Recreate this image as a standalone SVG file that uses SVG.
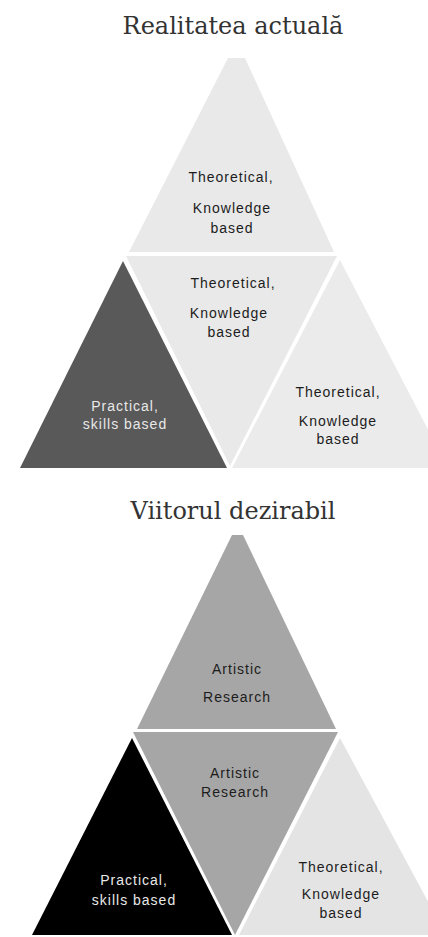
<svg xmlns="http://www.w3.org/2000/svg" width="428" height="937" viewBox="0 0 428 937">
  <style>
    .title { font-family: "DejaVu Serif", "Liberation Serif", serif; font-size: 24px; fill: #333333; text-anchor: middle; }
    .lbl { font-family: "Liberation Sans", Arial, sans-serif; font-size: 14px; letter-spacing: 1px; text-anchor: middle; }
    .dk { fill: #1c1c1c; }
    .lt { fill: #e8e8e8; }
    .light { fill: #e9e9e9; }
    .lighter { fill: #ebebeb; }
    .dark { fill: #595959; }
    .mid { fill: #a6a6a6; }
    .black { fill: #000000; }
    .pale { fill: #e4e4e4; }
  </style>
  <rect width="428" height="937" fill="#ffffff"/>

  <text class="title" x="233" y="34">Realitatea actuală</text>
  <text class="title" x="233" y="519">Viitorul dezirabil</text>

  <g id="connectors"></g>

  <!-- Top section -->
  <g id="cur-top">
    <polygon class="light" points="228,58 245,58 334,252 129,252"/>
    <text class="lbl dk" x="231" y="182">Theoretical,</text>
    <text class="lbl dk" x="232" y="213">Knowledge</text>
    <text class="lbl dk" x="232" y="233">based</text>
  </g>
  <g id="cur-middle">
    <polygon class="light" points="126,256 337,256 230,466"/>
    <text class="lbl dk" x="233" y="288">Theoretical,</text>
    <text class="lbl dk" x="229" y="318">Knowledge</text>
    <text class="lbl dk" x="229" y="337">based</text>
  </g>
  <g id="cur-left">
    <polygon class="dark" points="123,261 20,468 227,468"/>
    <text class="lbl lt" x="125" y="411">Practical,</text>
    <text class="lbl lt" x="125" y="429">skills based</text>
  </g>
  <g id="cur-right">
    <polygon class="lighter" points="340,260 232,468 448,468"/>
    <text class="lbl dk" x="338" y="397">Theoretical,</text>
    <text class="lbl dk" x="338" y="426">Knowledge</text>
    <text class="lbl dk" x="338" y="444">based</text>
  </g>

  <!-- Bottom section -->
  <g id="fut-top">
    <polygon class="mid" points="232,535 243,535 336,729 137,729"/>
    <text class="lbl dk" x="237" y="674">Artistic</text>
    <text class="lbl dk" x="237" y="702">Research</text>
  </g>
  <g id="fut-middle">
    <polygon class="mid" points="133,732 338,732 235,935"/>
    <text class="lbl dk" x="235" y="778">Artistic</text>
    <text class="lbl dk" x="235" y="797">Research</text>
  </g>
  <g id="fut-left">
    <polygon class="black" points="132,738 32,935 232,935"/>
    <text class="lbl lt" x="134" y="885">Practical,</text>
    <text class="lbl lt" x="134" y="905">skills based</text>
  </g>
  <g id="fut-right">
    <polygon class="pale" points="340,738 239,935 446,935"/>
    <text class="lbl dk" x="341" y="872">Theoretical,</text>
    <text class="lbl dk" x="341" y="899">Knowledge</text>
    <text class="lbl dk" x="341" y="918">based</text>
  </g>
</svg>
